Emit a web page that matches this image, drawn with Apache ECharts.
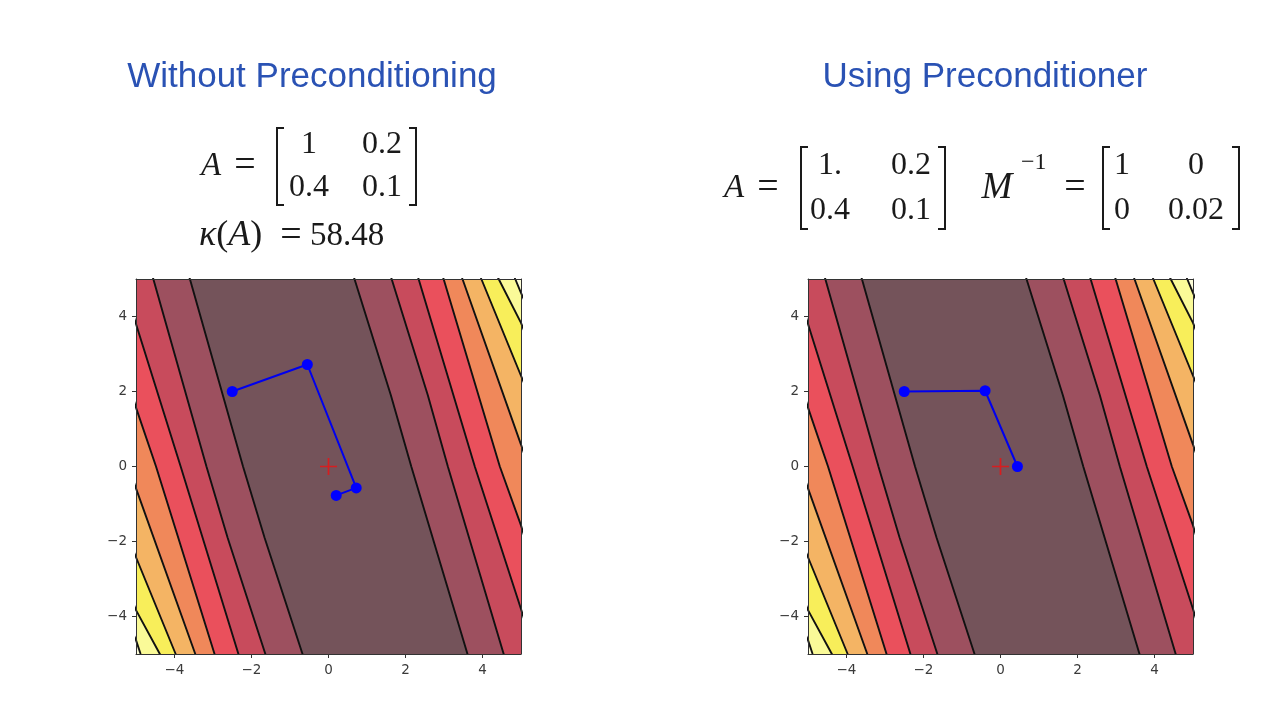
<!DOCTYPE html>
<html><head><meta charset="utf-8">
<script src="https://cdn.jsdelivr.net/npm/echarts@6/dist/echarts.min.js"></script>
<style>html,body{margin:0;padding:0;background:#fff}#c{width:1280px;height:720px}</style>
</head><body><div id="c"></div>
<script>
// ---------- data ----------
const tickValues = [-4, -2, 0, 2, 4];
const axisMin = -5, axisMax = 5;

// contour lines on the left side of the valley (inner -> outer), points [x, y]
const contourL1 = [[-3.9, 6], [-3.60, 5], [-2.22, 0], [-1.66, -1.9], [-0.675, -5], [-0.37, -6]];
const contourL2 = [[-4.85, 6], [-4.55, 5], [-3.17, 0], [-2.62, -1.9], [-1.64, -5], [-1.34, -6]];
const contourL3 = [[-5.66, 6], [-5.36, 5], [-5.0, 3.8], [-3.84, 0], [-2.34, -5], [-2.04, -6]];
const contourL4 = [[-6.3, 6], [-5.0, 1.57], [-4.48, 0], [-2.96, -5], [-2.66, -6]];
const contourL5 = [[-7.2, 6], [-5.0, -0.585], [-3.46, -5], [-3.16, -6]];
const contourL6 = [[-8.0, 5], [-5.0, -2.42], [-3.97, -5], [-3.6, -6]];
const contourL7 = [[-6.5, 0], [-5.0, -3.83], [-4.38, -5], [-3.9, -6]];
const contourL8 = [[-7.0, 0], [-5.0, -4.63], [-4.88, -5], [-4.5, -6]];
// contour lines on the right side of the valley (inner -> outer)
const contourR1 = [[0.37, 6], [0.675, 5], [1.62, 1.9], [2.15, 0], [3.61, -5], [3.9, -6]];
const contourR2 = [[1.34, 6], [1.64, 5], [2.58, 1.9], [3.10, 0], [4.55, -5], [4.85, -6]];
const contourR3 = [[2.04, 6], [2.34, 5], [3.80, 0], [5.0, -3.8], [5.36, -5], [5.66, -6]];
const contourR4 = [[2.68, 6], [2.99, 5], [4.45, 0], [5.0, -1.57], [6.3, -6]];
const contourR5 = [[3.16, 6], [3.48, 5], [5.0, 0.585], [7.2, -6]];
const contourR6 = [[3.6, 6], [3.97, 5], [5.0, 2.42], [8.0, -5]];
const contourR7 = [[3.9, 6], [4.42, 5], [5.0, 3.83], [6.5, 0]];
const contourR8 = [[4.5, 6], [4.85, 5], [5.0, 4.63], [7.0, 0]];

// band colours from the valley floor outwards
const bandColors = ['#74535a', '#9d505f', '#c84b5c', '#ea505c', '#f0885a', '#f4b464', '#f8ee5a', '#fafa98', '#fdfdd8'];

// iterates
const pathLeft = [[-2.5, 2.0], [-0.55, 2.72], [0.72, -0.57], [0.2, -0.77]];
const pathRight = [[-2.5, 2.0], [-0.4, 2.02], [0.44, 0.0]];
const minimumPoint = [[0, 0]];

// ---------- build ----------
const leftLines = [contourL1, contourL2, contourL3, contourL4, contourL5, contourL6, contourL7, contourL8];
const rightLines = [contourR1, contourR2, contourR3, contourR4, contourR5, contourR6, contourR7, contourR8];
const bands = [{a: contourL1, b: contourR1, color: bandColors[0]}];
for (let k = 0; k < 7; k++) {
  bands.push({a: leftLines[k], b: leftLines[k + 1], color: bandColors[k + 1]});
  bands.push({a: rightLines[k], b: rightLines[k + 1], color: bandColors[k + 1]});
}
const allLines = leftLines.concat(rightLines);

const fmt = v => (v < 0 ? '\u2212' + Math.abs(v) : String(v));
const gridPos = [
  {left: 136, top: 279, width: 385, height: 375},
  {left: 808, top: 279, width: 385, height: 375}
];
const frameColor = '#333';
const labelStyle = {color: '#3a3a3a', fontSize: 13.5, fontFamily: 'DejaVu Sans'};

const xAxes = [], yAxes = [], series = [];
gridPos.forEach((g, gi) => {
  xAxes.push({type: 'value', gridIndex: gi, min: axisMin, max: axisMax, position: 'bottom', z: 10,
    axisLine: {show: true, onZero: false, lineStyle: {color: frameColor, width: 1}},
    axisTick: {show: true, length: 4, customValues: tickValues, lineStyle: {color: frameColor}},
    axisLabel: Object.assign({customValues: tickValues, formatter: fmt, margin: 9}, labelStyle),
    splitLine: {show: false}});
  yAxes.push({type: 'value', gridIndex: gi, min: axisMin, max: axisMax, position: 'left', z: 10,
    axisLine: {show: true, onZero: false, lineStyle: {color: frameColor, width: 1}},
    axisTick: {show: true, length: 4, customValues: tickValues, lineStyle: {color: frameColor}},
    axisLabel: Object.assign({customValues: tickValues, formatter: fmt, margin: 9}, labelStyle),
    splitLine: {show: false}});
});
gridPos.forEach((g, gi) => {
  xAxes.push({type: 'value', gridIndex: gi, min: axisMin, max: axisMax, position: 'top', z: 10,
    axisLine: {show: true, onZero: false, lineStyle: {color: frameColor, width: 1}},
    axisTick: {show: false}, axisLabel: {show: false}, splitLine: {show: false}});
  yAxes.push({type: 'value', gridIndex: gi, min: axisMin, max: axisMax, position: 'right', z: 10,
    axisLine: {show: true, onZero: false, lineStyle: {color: frameColor, width: 1}},
    axisTick: {show: false}, axisLabel: {show: false}, splitLine: {show: false}});
});

const paths = [pathLeft, pathRight];
gridPos.forEach((g, gi) => {
  series.push({
    type: 'custom', xAxisIndex: gi, yAxisIndex: gi, clip: true, silent: true, z: 1,
    data: bands.map((b, i) => [i, 0]),
    renderItem: function (params, api) {
      const b = bands[api.value(0)];
      const pts = b.a.concat(b.b.slice().reverse()).map(p => api.coord(p));
      return {type: 'polygon', shape: {points: pts}, style: {fill: b.color, stroke: null}};
    }
  });
  allLines.forEach(line => {
    series.push({type: 'line', xAxisIndex: gi, yAxisIndex: gi, data: line, showSymbol: false, symbol: 'none',
      clip: true, silent: true, z: 2, lineStyle: {color: '#111', width: 1.9}});
  });
  series.push({type: 'scatter', xAxisIndex: gi, yAxisIndex: gi, data: minimumPoint, z: 3,
    symbol: 'path://M0,6.3H14V7.7H0Z M6.3,0H7.7V14H6.3Z', symbolSize: 17,
    itemStyle: {color: '#f01010'}});
  series.push({type: 'line', xAxisIndex: gi, yAxisIndex: gi, data: paths[gi], z: 4,
    symbol: 'circle', symbolSize: 11, showSymbol: true,
    itemStyle: {color: '#0000ff'}, lineStyle: {color: '#0000ee', width: 2}});
});

// ---------- text ----------
const mathFont = '"Liberation Serif", "DejaVu Serif", serif';
const mathColor = '#1a1a1a';
function txt(text, x, y, o) {
  o = o || {};
  return {type: 'text', x: x, y: y, z: 20, style: {
    text: text, fill: o.fill || mathColor, fontSize: o.size || 32,
    fontFamily: o.family || mathFont, fontStyle: o.italic ? 'italic' : 'normal',
    align: o.align || 'center', verticalAlign: 'middle', rich: o.rich}};
}
function bracket(x, top, bottom, dir) {
  return {type: 'polyline', z: 20, shape: {points: [[x + 7 * dir, top], [x, top], [x, bottom], [x + 7 * dir, bottom]]},
    style: {stroke: mathColor, lineWidth: 2, fill: null}};
}
const eq = {size: 38};
const titleStyle = {fill: '#2a52b4', size: 35, family: '"Liberation Sans", Arial, sans-serif'};
const graphics = [
  txt('Without Preconditioning', 312, 77, titleStyle),
  txt('Using Preconditioner', 985, 77, titleStyle),
  // left formula
  txt('A', 211, 166, {italic: true, size: 33}), txt('=', 245, 166, eq),
  bracket(277, 128, 205, 1),
  txt('1', 309, 145), txt('0.2', 382, 145), txt('0.4', 309, 188), txt('0.1', 382, 188),
  bracket(416, 128, 205, -1),
  txt('{i|\u03ba}({i|A})', 199, 236, {align: 'left', size: 36,
    rich: {i: {fontStyle: 'italic', fontSize: 36, fontFamily: mathFont, fill: mathColor}}}),
  txt('=', 291, 236, eq), txt('58.48', 347, 236, {size: 33}),
  // right formula
  txt('A', 734, 188, {italic: true, size: 33}), txt('=', 768, 188, eq),
  bracket(801, 147, 229, 1),
  txt('1.', 830, 166), txt('0.2', 911, 166), txt('0.4', 830, 211), txt('0.1', 911, 211),
  bracket(945, 147, 229, -1),
  txt('M', 997, 188, {italic: true, size: 37}), txt('\u22121', 1021, 163, {size: 24, align: 'left'}), txt('=', 1075, 188, eq),
  bracket(1103, 147, 229, 1),
  txt('1', 1122, 166), txt('0', 1196, 166), txt('0', 1122, 211), txt('0.02', 1196, 211),
  bracket(1239, 147, 229, -1)
];

const chart = echarts.init(document.getElementById('c'), null, {renderer: 'canvas'});
chart.setOption({
  backgroundColor: '#ffffff',
  animation: false,
  grid: gridPos.map(g => Object.assign({show: true, backgroundColor: bandColors[8], borderWidth: 0}, g)),
  xAxis: xAxes,
  yAxis: yAxes,
  series: series,
  graphic: {elements: graphics}
});
</script></body></html>
